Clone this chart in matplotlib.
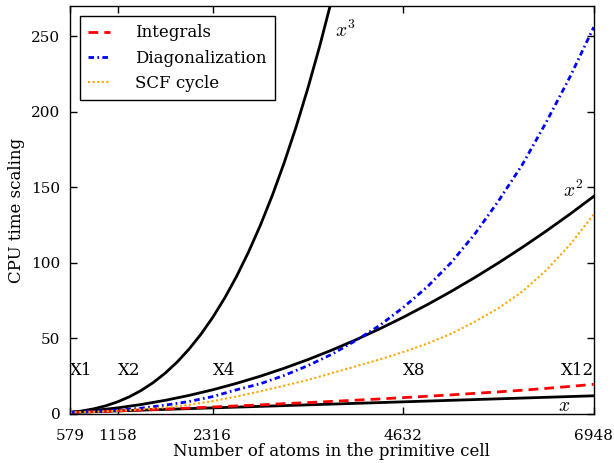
import numpy as np
import matplotlib
matplotlib.use("Agg")
import matplotlib.pyplot as plt

plt.rcParams["font.family"] = ["DejaVu Serif"]
plt.rcParams["mathtext.fontset"] = "cm"

cell_atoms = 579

# size multipliers (X1 ... X12)
mult = [1, 1.5, 2, 2.5, 3, 3.5, 4, 4.5, 5, 5.5, 6, 6.5,
        7, 7.5, 8, 8.5, 9, 9.5, 10, 10.5, 11, 11.5, 12]

integrals = [1.0, 1.5, 2.0, 2.6, 3.2, 3.9, 4.6, 5.3, 6.0, 6.8, 7.5, 8.3,
             9.1, 9.9, 10.8, 11.7, 12.6, 13.6, 14.6, 15.7, 16.9, 18.2, 19.6]
diagonalization = [1.0, 1.6, 2.5, 3.8, 5.8, 8.2, 11.5, 16.0, 20.0, 25.5, 32.0, 39.5,
                   48.5, 58.5, 70.5, 84.0, 100.0, 119.0, 141.0, 165.0, 193.0, 223.0, 256.0]
scf_cycle = [1.0, 1.4, 2.1, 3.0, 4.3, 6.0, 8.5, 11.5, 15.0, 18.7, 22.5, 27.0,
             31.5, 36.0, 41.0, 46.5, 53.0, 61.0, 70.0, 81.0, 95.0, 112.0, 132.0]

# ideal scaling references
ref_x = [1, 2, 3, 4, 5, 6, 7, 8, 9, 10, 11, 12]
ref_lin = [1, 2, 3, 4, 5, 6, 7, 8, 9, 10, 11, 12]
ref_sq = [1, 2.25, 4, 6.25, 9, 12.25, 16, 20.25, 25, 30.25, 36, 42.25,
          49, 56.25, 64, 72.25, 81, 90.25, 100, 110.25, 121, 132.25, 144]
cube_x = [1, 1.25, 1.5, 1.75, 2, 2.25, 2.5, 2.75, 3, 3.25, 3.5, 3.75, 4,
          4.25, 4.5, 4.75, 5, 5.25, 5.5, 5.75, 6, 6.25, 6.5, 6.75, 7]
ref_cube = [1, 1.953, 3.375, 5.359, 8, 11.39, 15.63, 20.80, 27, 34.33, 42.88,
            52.73, 64, 76.77, 91.13, 107.2, 125, 144.7, 166.4, 190.1, 216,
            244.1, 274.6, 307.5, 343]

size_labels = ["X1", "X2", "X4", "X8", "X12"]
size_mult = [1, 2, 4, 8, 12]
xticks = [579, 1158, 2316, 4632, 6948]

atoms = np.array(mult) * cell_atoms

fig = plt.figure(figsize=(6.14, 4.63), dpi=100)
ax = fig.add_axes([0.114, 0.106, 0.853, 0.881])

ax.plot(np.array(ref_x) * cell_atoms, ref_lin, color="black", linewidth=2)
ax.plot(atoms, ref_sq, color="black", linewidth=2)
ax.plot(np.array(cube_x) * cell_atoms, ref_cube, color="black", linewidth=2)

ax.plot(atoms, integrals, color="red", linestyle=(0, (3.5, 2.2)),
        linewidth=2, label="Integrals")
ax.plot(atoms, diagonalization, color="blue", linestyle=(0, (2, 1.2, 0.6, 1.2)),
        linewidth=2, label="Diagonalization")
ax.plot(atoms, scf_cycle, color="orange", linestyle=(0, (1, 1.2)),
        linewidth=1.5, label="SCF cycle")

ax.text(6.56 * cell_atoms, 254, "$x^3$", fontsize=14, ha="left", va="center")
ax.text(11.78 * cell_atoms, 148, "$x^2$", fontsize=14, ha="right", va="center")
ax.text(11.5 * cell_atoms, 5, "$x$", fontsize=14, ha="right", va="center")

for lab, m in zip(size_labels, size_mult):
    ha = "right" if m == 12 else "left"
    ax.text(m * cell_atoms, 29, lab, fontsize=12, ha=ha, va="center")

ax.set_xlim(579, 6948)
ax.set_ylim(0, 270)
ax.set_xticks(xticks)
ax.set_xticklabels([str(t) for t in xticks])
ax.set_yticks([0, 50, 100, 150, 200, 250])
ax.tick_params(direction="in", top=True, right=True, labelsize=11,
               length=5, width=1)
ax.tick_params(axis="x", pad=11)
ax.tick_params(axis="y", pad=7)
for s in ax.spines.values():
    s.set_linewidth(1)

ax.set_xlabel("Number of atoms in the primitive cell", fontsize=12, labelpad=0)
ax.set_ylabel("CPU time scaling", fontsize=12, labelpad=4)

leg = ax.legend(loc="upper left", fontsize=12, handlelength=1.3,
                handletextpad=1.5, borderpad=0.5,
                fancybox=False, edgecolor="black", framealpha=1,
                borderaxespad=0.6)
leg.get_frame().set_linewidth(1)

plt.savefig("out.png", dpi=100)
plt.close()
